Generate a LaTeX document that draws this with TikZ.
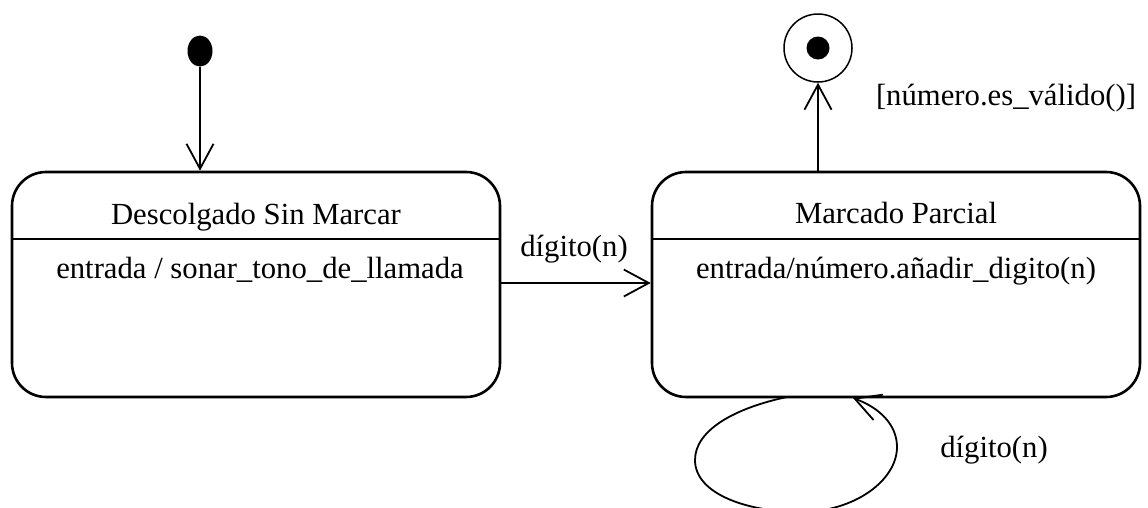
\documentclass[tikz,border=0pt]{standalone}
\usepackage{fontspec}
\setmainfont{Liberation Serif}
\usetikzlibrary{arrows.meta,calc,shapes.geometric}
\begin{document}
\begin{tikzpicture}[x=1pt,y=-1pt,
  state/.style={draw, line width=2.6pt, rounded corners=34pt,
    minimum width=488pt, minimum height=225pt, inner sep=0pt},
  txt/.style={font=\fontsize{30.7}{36}\selectfont, inner sep=0pt, anchor=base},
  barb/.style={-{Straight Barb[length=25pt,width=27pt,line width=1.8pt]}, line width=1.8pt},
  divider/.style={line width=1.6pt}
]
\useasboundingbox (0,0) rectangle (1148,507);

% states
\node[state] (ds) at (256,284.5) {};
\node[state] (mp) at (896,284.5) {};
\draw[divider] ($(ds.north west)+(0,68)$) -- ($(ds.north east)+(0,68)$);
\draw[divider] ($(mp.north west)+(0,68)$) -- ($(mp.north east)+(0,68)$);

\node[txt] (dsname) at (256,224) {Descolgado Sin Marcar};
\node[txt] (dsentry) at (260,278) {entrada / sonar\_tono\_de\_llamada};
\node[txt] (mpname) at (896,223) {Marcado Parcial};
\node[txt] (mpentry) at (896,278) {entrada/número.añadir\_digito(n)};

% initial pseudo-state
\node[ellipse, fill=black, minimum width=25pt, minimum height=31pt, inner sep=0pt] (init) at (200,51) {};
\draw[barb] (init) -- (init |- ds.north);

% final state
\node[circle, draw, line width=1.5pt, minimum size=68pt, inner sep=0pt] (fin) at (818,48) {};
\node[circle, fill=black, minimum size=23pt, inner sep=0pt] (findot) at (fin.center) {};
\draw[barb] (fin |- mp.north) -- (fin.south);
\node[txt] (guard) at (1006,105) {[número.es\_válido()]};

% transition between states
\draw[barb] (ds.east |- 0,283) -- (mp.west |- 0,283);
\node[txt] (tlabel) at (574,256) {dígito(n)};

% self transition
\coordinate (loopstart) at (787,397);
\coordinate (loopend) at (853,398);
\draw[barb] (loopstart)
  .. controls (735,408) and (695,430) .. (695,460)
  .. controls (695,495) and (750,512) .. (800,512)
  .. controls (855,512) and (897,480) .. (897,447)
  .. controls (897,425) and (880,408) .. (loopend);
\node[txt] (llabel) at (994,457) {dígito(n)};
\end{tikzpicture}
\end{document}
